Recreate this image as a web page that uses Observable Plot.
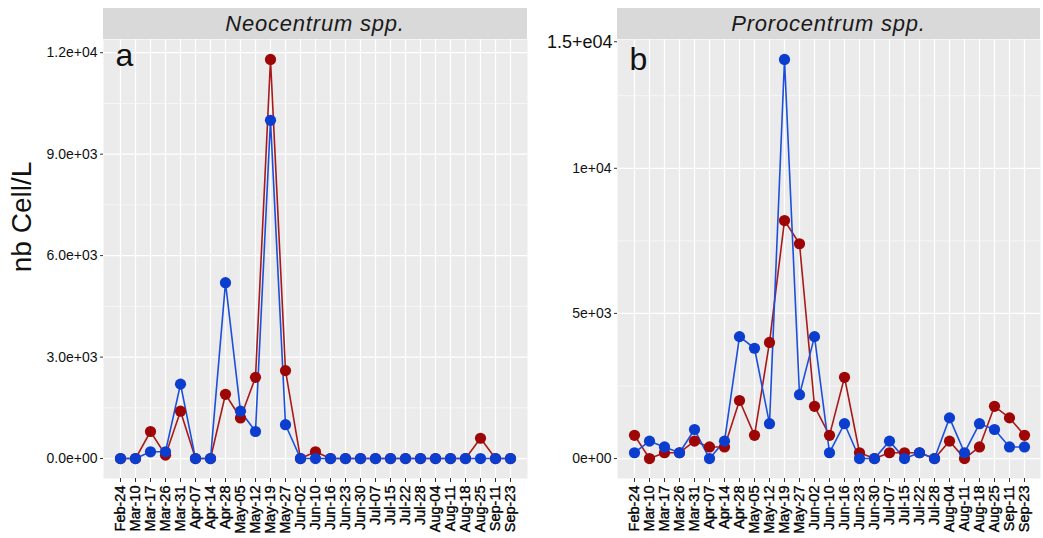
<!DOCTYPE html>
<html>
<head>
<meta charset="utf-8">
<script src="https://cdn.jsdelivr.net/npm/d3@7"></script>
<script src="https://cdn.jsdelivr.net/npm/@observablehq/plot@0.6"></script>
<style>
  html, body { margin: 0; padding: 0; background: #fff; }
  #wrap { position: relative; width: 1043px; height: 538px; overflow: hidden; font-family: "Liberation Sans", Arial, sans-serif; }
  .panel { position: absolute; top: 0; }
  .strip { position: absolute; top: 8px; height: 31px; background: #D9D9D9; color: #1A1A1A;
           font-style: italic; font-size: 22px; letter-spacing: 0.8px; text-align: center; line-height: 31px; }
  #ytitle { position: absolute; left: 22px; top: 217px; transform: translate(-50%, -50%) rotate(-90deg);
            font-size: 28px; white-space: nowrap; color: #111; }
  .xax text { stroke: #000; stroke-width: 0.35px; }
</style>
</head>
<body>
<div id="wrap">
  <div id="left" class="panel" style="left:0px"></div>
  <div id="right" class="panel" style="left:530px"></div>
  <div class="strip" style="left:103px; width:424px;">Neocentrum spp.</div>
  <div class="strip" style="left:617px; width:423px;">Prorocentrum spp.</div>
  <div id="ytitle">nb Cell/L</div>
</div>
<script>
// sampling dates (categories)
const dates = ["Feb-24","Mar-10","Mar-17","Mar-26","Mar-31","Apr-07","Apr-14","Apr-28","May-05","May-12","May-19","May-27","Jun-02","Jun-10","Jun-16","Jun-23","Jun-30","Jul-07","Jul-15","Jul-22","Jul-28","Aug-04","Aug-11","Aug-18","Aug-25","Sep-11","Sep-23"];

// panel a: Neocentrum spp.
const neoRed  = [0,0,800,100,1400,0,0,1900,1200,2400,11800,2600,0,200,0,0,0,0,0,0,0,0,0,0,600,0,0];
const neoBlue = [0,0,200,200,2200,0,0,5200,1400,800,10000,1000,0,0,0,0,0,0,0,0,0,0,0,0,0,0,0];

// panel b: Prorocentrum spp.
const proRed  = [800,0,200,200,600,400,400,2000,800,4000,8200,7400,1800,800,2800,200,0,200,200,200,0,600,0,400,1800,1400,800];
const proBlue = [200,600,400,200,1000,0,600,4200,3800,1200,13750,2200,4200,200,1200,0,0,600,0,200,0,1400,200,1200,1000,400,400];

// axis ticks and labels
const neoTicks = [0, 3000, 6000, 9000, 12000];
const neoTickLabels = ["0.0e+00", "3.0e+03", "6.0e+03", "9.0e+03", "1.2e+04"];
const neoMinor = [1500, 4500, 7500, 10500];
const proTicks = [0, 5000, 10000];
const proTickLabels = ["0e+00", "5e+03", "1e+04"];
const proTopTick = [14360];
const proTopTickLabel = ["1.5+e04"];
const proMinor = [2500, 7500, 12500];

const redColor = "#9E0606";
const redLine = "#A81A1A";
const blueColor = "#0B3DCF";
const blueLine = "#1C50DC";

function rows(vals) { return dates.map((d, i) => ({date: d, value: vals[i]})); }

function panel({width, marginLeft, red, blue, ticks, labels, minor, letter, letterDy, extraTicks, extraLabels}) {
  const all = red.concat(blue);
  const max = d3.max(all), min = d3.min(all);
  const pad = (max - min) * 0.05;
  const marks = [
    Plot.frame({fill: "#EBEBEB", stroke: "none"}),
    Plot.ruleY(minor, {stroke: "white", strokeWidth: 0.6}),
    Plot.ruleY(ticks, {stroke: "white", strokeWidth: 1.2}),
    Plot.ruleX(dates, {x: d => d, stroke: "white", strokeWidth: 1.2}),
    Plot.axisY(ticks, {tickFormat: d => labels[ticks.indexOf(d)], tickSize: 3, tickPadding: 3, fontSize: 14, letterSpacing: "-0.3px", fill: "#111", stroke: "#333", label: null}),
    Plot.axisX({tickRotate: -90, tickSize: 4, tickPadding: 3, fontSize: 14.5, fill: "#000", stroke: "#333", label: null, className: "xax"}),
    Plot.line(rows(red), {x: "date", y: "value", stroke: redLine, strokeWidth: 1.6}),
    Plot.line(rows(blue), {x: "date", y: "value", stroke: blueLine, strokeWidth: 1.6}),
    Plot.dot(rows(red), {x: "date", y: "value", fill: redColor, r: 5.6, stroke: "none"}),
    Plot.dot(rows(blue), {x: "date", y: "value", fill: blueColor, r: 5.6, stroke: "none"}),
    Plot.text([letter], {text: d => d, frameAnchor: "top-left", textAnchor: "start", lineAnchor: "middle", dx: 12, dy: letterDy, fontSize: 32, fill: "#111"})
  ];
  if (extraTicks) {
    marks.push(Plot.axisY(extraTicks, {tickFormat: d => extraLabels[extraTicks.indexOf(d)], tickSize: 3, tickPadding: 2, fontSize: 18, letterSpacing: "0.3px", fill: "#111", stroke: "#333", label: null}));
  }
  return Plot.plot({
    width, height: 538,
    marginLeft, marginRight: 3, marginTop: 39, marginBottom: 60,
    style: {fontFamily: "'Liberation Sans', Arial, sans-serif", background: "transparent", color: "#222"},
    x: {type: "point", domain: dates, padding: 0.6},
    y: {domain: [min - pad, max + pad]},
    marks
  });
}

document.getElementById("left").append(panel({
  width: 530, marginLeft: 103, red: neoRed, blue: neoBlue,
  ticks: neoTicks, labels: neoTickLabels, minor: neoMinor, letter: "a", letterDy: 16
}));
document.getElementById("right").append(panel({
  width: 513, marginLeft: 87, red: proRed, blue: proBlue,
  ticks: proTicks, labels: proTickLabels, minor: proMinor, letter: "b", letterDy: 20,
  extraTicks: proTopTick, extraLabels: proTopTickLabel
}));
</script>
</body>
</html>
